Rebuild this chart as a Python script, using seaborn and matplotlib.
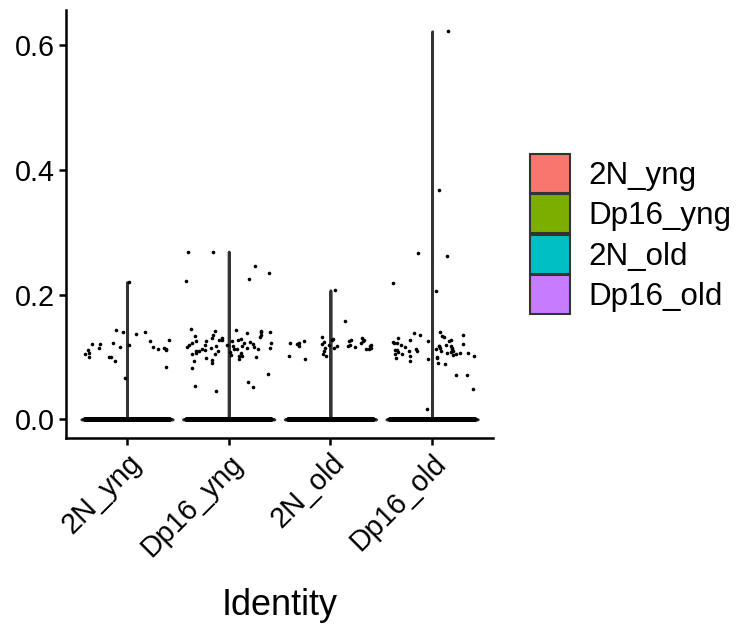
import numpy as np
import pandas as pd
import seaborn as sns
import matplotlib.pyplot as plt
from matplotlib.patches import Patch

groups = ["2N_yng", "Dp16_yng", "2N_old", "Dp16_old"]
colors = ["#F8766D", "#7CAE00", "#00BFC4", "#C77CFF"]

# number of cells with zero expression in each group
zero_counts = [1400, 1700, 1500, 1600]

# non-zero expression values
vals_2n_yng = [0.220, 0.143, 0.140, 0.140, 0.137, 0.128, 0.126, 0.123, 0.121, 0.121,
               0.119, 0.116, 0.116, 0.115, 0.115, 0.113, 0.113, 0.111, 0.111, 0.107,
               0.104, 0.100, 0.100, 0.100, 0.093, 0.084, 0.066]
vals_dp16_yng = [0.269, 0.268, 0.246, 0.235, 0.225, 0.222, 0.145, 0.143, 0.142, 0.141,
                 0.140, 0.140, 0.138, 0.136, 0.135, 0.134, 0.132, 0.131, 0.130, 0.129,
                 0.128, 0.128, 0.127, 0.126, 0.125, 0.125, 0.124, 0.123, 0.122, 0.122,
                 0.121, 0.120, 0.120, 0.119, 0.118, 0.118, 0.117, 0.116, 0.116, 0.115,
                 0.115, 0.114, 0.113, 0.113, 0.112, 0.112, 0.111, 0.110, 0.110, 0.109,
                 0.108, 0.107, 0.106, 0.105, 0.104, 0.103, 0.102, 0.101, 0.100, 0.099,
                 0.097, 0.095, 0.093, 0.090, 0.083, 0.072, 0.060, 0.053, 0.052, 0.045]
vals_2n_old = [0.207, 0.158, 0.132, 0.130, 0.129, 0.128, 0.127, 0.127, 0.126, 0.125,
               0.125, 0.124, 0.123, 0.123, 0.122, 0.121, 0.121, 0.120, 0.120, 0.119,
               0.118, 0.118, 0.117, 0.117, 0.116, 0.115, 0.115, 0.114, 0.113, 0.112,
               0.110, 0.104, 0.101, 0.101, 0.096]
vals_dp16_old = [0.622, 0.368, 0.267, 0.262, 0.218, 0.206, 0.140, 0.138, 0.136, 0.135,
                 0.133, 0.132, 0.130, 0.128, 0.127, 0.126, 0.125, 0.124, 0.123, 0.122,
                 0.121, 0.120, 0.119, 0.118, 0.117, 0.117, 0.116, 0.115, 0.114, 0.113,
                 0.112, 0.112, 0.111, 0.111, 0.110, 0.110, 0.109, 0.109, 0.108, 0.108,
                 0.107, 0.106, 0.106, 0.105, 0.105, 0.104, 0.103, 0.102, 0.101, 0.100,
                 0.099, 0.098, 0.096, 0.094, 0.091, 0.088, 0.071, 0.071, 0.048, 0.017]

nonzero = [vals_2n_yng, vals_dp16_yng, vals_2n_old, vals_dp16_old]

rows = []
for g, nz, vals in zip(groups, zero_counts, nonzero):
    for v in [0.0] * nz + vals:
        rows.append((g, v))
df = pd.DataFrame(rows, columns=["Identity", "value"])

sns.set_style("white")
plt.rcParams["font.family"] = ["Liberation Sans", "DejaVu Sans"]
plt.rcParams["text.color"] = "black"
plt.rcParams["axes.labelcolor"] = "black"
plt.rcParams["xtick.color"] = "black"
plt.rcParams["ytick.color"] = "black"

np.random.seed(1)
fig = plt.figure(figsize=(7.39, 6.29), dpi=100)
ax = fig.add_axes([0.0893, 0.304, 0.578, 0.680])

sns.violinplot(data=df, x="Identity", y="value", hue="Identity", order=groups,
               hue_order=groups, palette=colors, cut=0, density_norm="width",
               bw_adjust=0.1, gridsize=2000, inner=None, width=0.9,
               linecolor="#333333", linewidth=2, legend=False, ax=ax)
sns.stripplot(data=df, x="Identity", y="value", order=groups, color="black",
              jitter=0.42, size=2.6, linewidth=0, ax=ax)

ax.set_xlim(-0.6, 3.6)
ax.set_ylim(-0.0295, 0.656)
ax.set_yticks([0.0, 0.2, 0.4, 0.6])
ax.set_yticklabels(["0.0", "0.2", "0.4", "0.6"])
ax.set_ylabel("")
ax.set_xlabel("Identity", fontsize=26, labelpad=19)
ax.tick_params(axis="both", labelsize=20.7, length=5, width=1.8, color="black",
               direction="out", left=True, bottom=True, pad=3)
plt.setp(ax.get_xticklabels(), rotation=45, ha="right", rotation_mode="anchor")
sns.despine(ax=ax)
for s in ["left", "bottom"]:
    ax.spines[s].set_linewidth(1.8)
    ax.spines[s].set_color("black")

handles = [Patch(facecolor=c, edgecolor="#333333", linewidth=1.5) for c in colors]
fig.legend(handles, groups, loc="center left", bbox_to_anchor=(0.717, 0.628),
           frameon=False, fontsize=22.6, handlelength=1.27, handleheight=1.53,
           labelspacing=0.05, handletextpad=0.6, borderpad=0, borderaxespad=0)

fig.savefig("out.png", dpi=100)
